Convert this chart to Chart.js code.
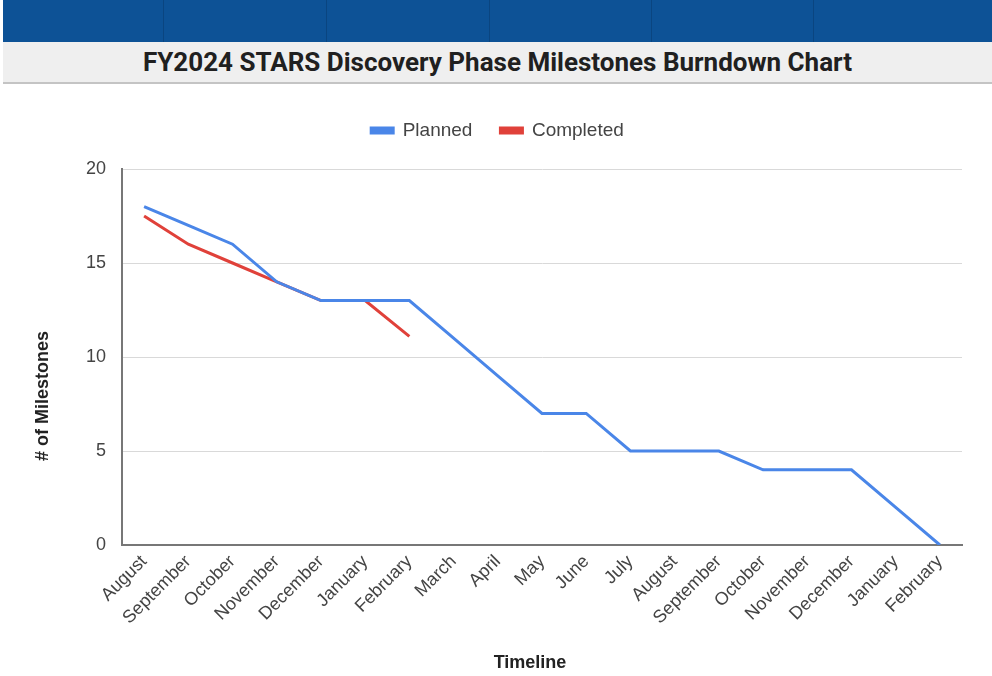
<!DOCTYPE html>
<html>
<head>
<meta charset="utf-8">
<script src="https://cdn.jsdelivr.net/npm/chart.js@4"></script>
<style>
  body { margin: 0; width: 992px; height: 676px; background: #fff; overflow: hidden; font-family: "Liberation Sans", Arial, sans-serif; }
  #barra { position: absolute; left: 3px; top: 0; width: 989px; height: 42px; background: #0d5296; }
  .corte { position: absolute; top: 0; width: 1px; height: 42px; background: #0a4580; }
  #titulo { position: absolute; left: 3px; top: 42px; width: 989px; height: 40px; background: #efefef; border-bottom: 2px solid #c4c4c4;
            text-align: center; line-height: 40px; font-family: Roboto, sans-serif; font-weight: bold; font-size: 26px; color: #202020; }
  #contenedor { position: absolute; left: 0; top: 88px; width: 992px; height: 588px; }
</style>
</head>
<body>
<div id="barra">
  <div class="corte" style="left:160px"></div>
  <div class="corte" style="left:323px"></div>
  <div class="corte" style="left:486px"></div>
  <div class="corte" style="left:648px"></div>
  <div class="corte" style="left:810px"></div>
</div>
<div id="titulo">FY2024 STARS Discovery Phase Milestones Burndown Chart</div>
<div id="contenedor"><canvas id="grafico" width="992" height="588"></canvas></div>

<script>
// DATOS:
const meses = [
    'August', 'September', 'October', 'November', 'December', 'January', 'February',
    'March', 'April', 'May', 'June', 'July', 'August', 'September', 'October',
    'November', 'December', 'January', 'February'
];
const planificado = [18, 17, 16, 14, 13, 13, 13, 11, 9, 7, 7, 5, 5, 5, 4, 4, 4, 2, 0];
const completado = [17.5, 16, 15, 14, 13, 13, 11.1];
const ticksY = [0, 5, 10, 15, 20];

const fuente = "'Liberation Sans', Arial, sans-serif";

// titulos de los ejes dibujados a mano (posicion como en Google Charts)
const titulosEjes = {
    id: 'titulosEjes',
    afterDraw(chart) {
        const ctx = chart.ctx;
        ctx.save();
        ctx.font = 'bold 18px ' + fuente;
        ctx.fillStyle = '#222';
        ctx.textAlign = 'center';
        ctx.textBaseline = 'middle';
        ctx.fillText('Timeline', 530, 575);
        ctx.translate(43, 308);
        ctx.rotate(-Math.PI / 2);
        ctx.fillText('# of Milestones', 0, 0);
        ctx.restore();
    }
};

// mas espacio debajo de la leyenda
const margenLeyenda = {
    id: 'margenLeyenda',
    beforeInit(chart) {
        const fitOriginal = chart.legend.fit;
        chart.legend.fit = function() {
            fitOriginal.bind(chart.legend)();
            this.height += 19;
        };
    }
};

const ctx = document.getElementById('grafico').getContext('2d');

new Chart(ctx, {
    type: 'line',
    data: {
        labels: meses,
        datasets: [{
            label: 'Planned',
            data: planificado,
            borderColor: '#4a86e8',
            backgroundColor: '#4a86e8',
            borderWidth: 3,
            pointRadius: 0,
            tension: 0
        }, {
            label: 'Completed',
            data: completado,
            borderColor: '#e0413a',
            backgroundColor: '#e0413a',
            borderWidth: 3,
            pointRadius: 0,
            tension: 0
        }]
    },
    options: {
        responsive: false,
        animation: false,
        layout: { padding: { left: 33, right: 30, top: 5, bottom: 0 } },
        plugins: {
            legend: {
                position: 'top',
                labels: {
                    boxWidth: 22,
                    boxHeight: 5,
                    padding: 28,
                    color: '#444',
                    font: { family: fuente, size: 19 }
                }
            },
            tooltip: { enabled: false }
        },
        scales: {
            x: {
                offset: true,
                grid: { display: false, drawTicks: false },
                border: { display: true, color: '#777', width: 2 },
                ticks: {
                    autoSkip: false,
                    minRotation: 45,
                    maxRotation: 45,
                    padding: 6,
                    color: '#444',
                    font: { family: fuente, size: 18 }
                },
                afterFit: function(scale) { scale.height = 131; }
            },
            y: {
                min: 0,
                max: 20,
                afterBuildTicks: function(scale) {
                    scale.ticks = ticksY.map(v => ({ value: v }));
                },
                grid: { color: '#d9d9d9', lineWidth: 1, drawTicks: false },
                border: { display: true, color: '#777', width: 2 },
                ticks: {
                    padding: 16,
                    color: '#444',
                    font: { family: fuente, size: 18 }
                },
                afterFit: function(scale) { scale.width = 89; }
            }
        }
    },
    plugins: [titulosEjes, margenLeyenda]
});
</script>
</body>
</html>
